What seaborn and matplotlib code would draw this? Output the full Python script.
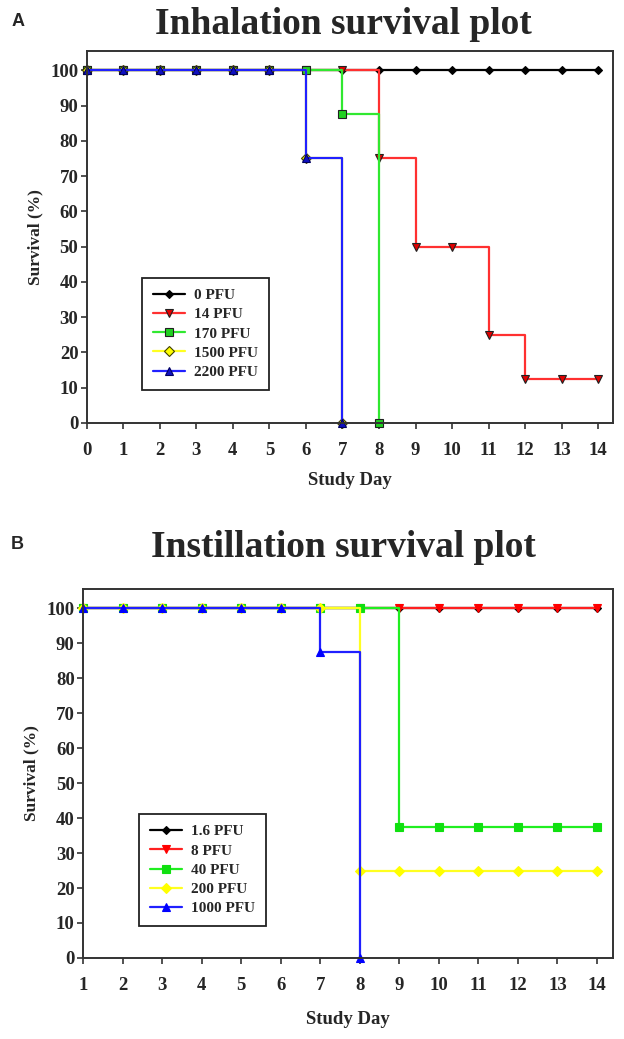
import matplotlib
matplotlib.use('Agg')
import matplotlib.pyplot as plt
import seaborn as sns
import pandas as pd

# ---------------- data ----------------
inh_days = [0, 1, 2, 3, 4, 5, 6, 7, 8, 9, 10, 11, 12, 13, 14]
inh_labels = ['0 PFU', '14 PFU', '170 PFU', '1500 PFU', '2200 PFU']
inh_0 = [100, 100, 100, 100, 100, 100, 100, 100, 100, 100, 100, 100, 100, 100, 100]
inh_14 = [100, 100, 100, 100, 100, 100, 100, 100, 75, 50, 50, 25, 12.5, 12.5, 12.5]
inh_170 = [100, 100, 100, 100, 100, 100, 100, 87.5, 0]
inh_1500 = [100, 100, 100, 100, 100, 100, 75, 0]
inh_2200 = [100, 100, 100, 100, 100, 100, 75, 0]

ins_days = [1, 2, 3, 4, 5, 6, 7, 8, 9, 10, 11, 12, 13, 14]
ins_labels = ['1.6 PFU', '8 PFU', '40 PFU', '200 PFU', '1000 PFU']
ins_1_6 = [100, 100, 100, 100, 100, 100, 100, 100, 100, 100, 100, 100, 100, 100]
ins_8 = [100, 100, 100, 100, 100, 100, 100, 100, 100, 100, 100, 100, 100, 100]
ins_40 = [100, 100, 100, 100, 100, 100, 100, 100, 37.5, 37.5, 37.5, 37.5, 37.5, 37.5]
ins_200 = [100, 100, 100, 100, 100, 100, 100, 25, 25, 25, 25, 25, 25, 25]
ins_1000 = [100, 100, 100, 100, 100, 100, 87.5, 0]

y_ticks = [0, 10, 20, 30, 40, 50, 60, 70, 80, 90, 100]

# ---------------- style ----------------
sns.set_style('white')
plt.rcParams['font.family'] = ['Liberation Serif', 'DejaVu Serif']
plt.rcParams['font.weight'] = 'bold'

fig = plt.figure(figsize=(6.24, 10.39), dpi=100)
axA = fig.add_axes([0.139, 0.593, 0.843, 0.358])
axB = fig.add_axes([0.133, 0.078, 0.849, 0.355])

A_styles = [
    dict(color='#000000', marker='D', ms=4.5, mfc='#000000', mec='#000000'),
    dict(color='#ff3030', marker='v', ms=6, mfc='#e00000', mec='#202020'),
    dict(color='#30e830', marker='s', ms=5.5, mfc='#20d020', mec='#202020'),
    dict(color='#ffff20', marker='D', ms=5.5, mfc='#ffff00', mec='#404000'),
    dict(color='#2020ff', marker='^', ms=6, mfc='#1010c0', mec='#000060'),
]
B_styles = [
    dict(color='#000000', marker='D', ms=4.5, mfc='#000000', mec='#000000'),
    dict(color='#ff2020', marker='v', ms=6, mfc='#ff0000', mec='#ff0000'),
    dict(color='#20ee20', marker='s', ms=5.5, mfc='#10e010', mec='#10e010'),
    dict(color='#ffff20', marker='D', ms=5.5, mfc='#ffff00', mec='#ffff00'),
    dict(color='#2020ff', marker='^', ms=6, mfc='#0000ff', mec='#0000ff'),
]

A_series = [inh_0, inh_14, inh_170, inh_1500, inh_2200]
B_series = [ins_1_6, ins_8, ins_40, ins_200, ins_1000]


def draw(ax, days, series, labels, styles):
    for vals, lab, st in zip(series, labels, styles):
        df = pd.DataFrame({'day': days[:len(vals)], 'surv': vals})
        sns.lineplot(data=df, x='day', y='surv', ax=ax, drawstyle='steps-post',
                     color=st['color'], marker=st['marker'], markersize=st['ms'],
                     markerfacecolor=st['mfc'], markeredgecolor=st['mec'],
                     markeredgewidth=0.8, linewidth=1.6, label=lab, clip_on=False)


draw(axA, inh_days, A_series, inh_labels, A_styles)
draw(axB, ins_days, B_series, ins_labels, B_styles)

for ax, days, xmin, xlpad in [(axA, inh_days, 0, 9), (axB, ins_days, 1, 12)]:
    ax.set_xlim(xmin, 14.4)
    ax.set_ylim(0, 105.5)
    ax.set_xticks(days)
    ax.set_yticks(y_ticks)
    ax.tick_params(axis='both', direction='out', length=4, width=1.2,
                   color='#333333', labelsize=13.5)
    ax.tick_params(axis='x', pad=10)
    ax.tick_params(axis='y', pad=2)
    ax.tick_params(axis='x', bottom=True)
    ax.tick_params(axis='y', left=True)
    for lbl in ax.get_xticklabels() + ax.get_yticklabels():
        lbl.set_fontweight('bold')
    for sp in ax.spines.values():
        sp.set_visible(True)
        sp.set_color('#333333')
        sp.set_linewidth(1.4)
    ax.set_xlabel('Study Day', fontsize=13.5, fontweight='bold', labelpad=xlpad)
    ax.set_ylabel('Survival (%)', fontsize=12.5, fontweight='bold', labelpad=5)
    leg = ax.legend(loc='upper left', bbox_to_anchor=(0.106, 0.39),
                    borderaxespad=0, fancybox=False, framealpha=1,
                    edgecolor='#222222', labelspacing=0.36,
                    handlelength=2.1, handletextpad=0.6, borderpad=0.7,
                    prop={'weight': 'bold', 'size': 11})
    leg.get_frame().set_linewidth(1.3)

fig.text(0.55, 0.967, 'Inhalation survival plot', ha='center', va='baseline',
         fontsize=27, fontweight='bold')
fig.text(0.55, 0.464, 'Instillation survival plot', ha='center', va='baseline',
         fontsize=27, fontweight='bold')
fig.text(0.018, 0.979, 'A', ha='left', va='center', fontsize=13,
         fontweight='bold', family=['Liberation Sans', 'DejaVu Sans'])
fig.text(0.018, 0.476, 'B', ha='left', va='center', fontsize=13,
         fontweight='bold', family=['Liberation Sans', 'DejaVu Sans'])

fig.savefig('out.png', dpi=100)
